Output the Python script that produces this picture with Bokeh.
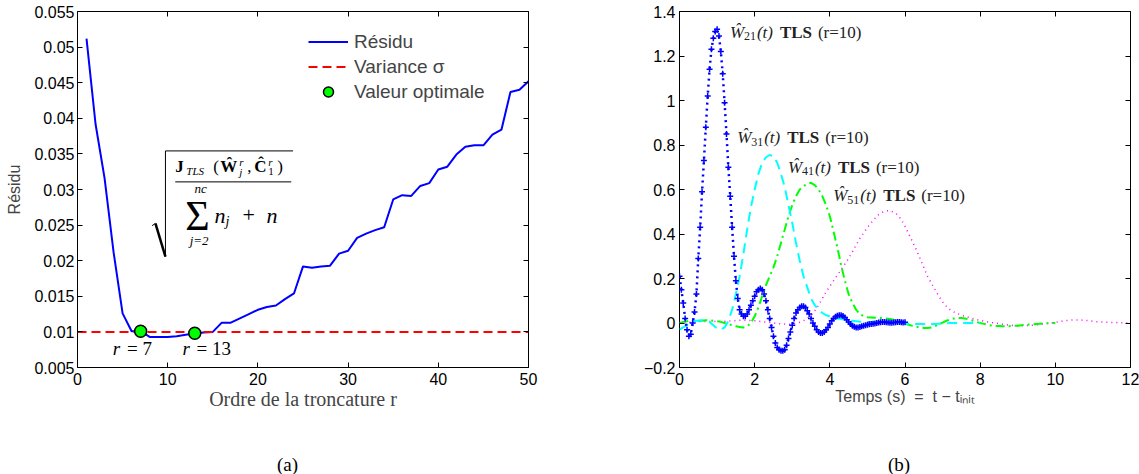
from bokeh.plotting import figure
from bokeh.models import (Range1d, FixedTicker, LinearAxis, Label, Legend,
                          LegendItem, CustomJSTickFormatter, Div)
from bokeh.core.properties import value
from bokeh.layouts import row, column
from bokeh.embed import file_html
from bokeh.resources import INLINE

SANS = "Liberation Sans"
SERIF = "Liberation Serif"

# ---------------- data : panel (a) ----------------
r_order = list(range(1, 51))
residu = [0.0512, 0.0392, 0.0316, 0.0212, 0.0126, 0.0101, 0.0101, 0.0093, 0.0093, 0.0093,
          0.0094, 0.0096, 0.0098, 0.0099, 0.0100, 0.0113, 0.0113, 0.0119, 0.0125, 0.0131,
          0.0135, 0.0137, 0.0146, 0.0154, 0.0192, 0.0190, 0.0192, 0.0193, 0.0210, 0.0214,
          0.0232, 0.0238, 0.0243, 0.0247, 0.0286, 0.0292, 0.0291, 0.0305, 0.0309, 0.0328,
          0.0332, 0.0349, 0.0360, 0.0362, 0.0362, 0.0377, 0.0384, 0.0437, 0.0440, 0.0452]
variance_r = [0, 50]
variance_sigma = [0.01, 0.01]
r_optimal = [7, 13]
residu_optimal = [0.0101, 0.0098]
xticks_a = [0, 10, 20, 30, 40, 50]
xlabels_a = ["0", "10", "20", "30", "40", "50"]
yticks_a = [0.005, 0.01, 0.015, 0.02, 0.025, 0.03, 0.035, 0.04, 0.045, 0.05, 0.055]
ylabels_a = ["0.005", "0.01", "0.015", "0.02", "0.025", "0.03", "0.035", "0.04",
             "0.045", "0.05", "0.055"]

# ---------------- data : panel (b) ----------------
t_w21 = [round(0.05 * i, 2) for i in range(121)]
w21 = [0.21, 0.15, 0.09, 0.02, -0.03, -0.06, -0.05, 0.00, 0.05, 0.13,
       0.29, 0.43, 0.59, 0.73, 0.88, 1.02, 1.14, 1.23, 1.28, 1.31,
       1.32, 1.29, 1.22, 1.12, 0.99, 0.85, 0.70, 0.57, 0.43, 0.30,
       0.19, 0.11, 0.06, 0.04, 0.03, 0.03, 0.04, 0.06, 0.08, 0.10,
       0.12, 0.14, 0.15, 0.155, 0.15, 0.13, 0.10, 0.06, 0.02, -0.02,
       -0.06, -0.09, -0.11, -0.12, -0.125, -0.125, -0.12, -0.10, -0.07, -0.04,
       -0.01, 0.02, 0.045, 0.06, 0.07, 0.075, 0.075, 0.07, 0.055, 0.04,
       0.02, 0.00, -0.015, -0.03, -0.04, -0.045, -0.045, -0.04, -0.03, -0.02,
       -0.005, 0.01, 0.02, 0.028, 0.033, 0.035, 0.035, 0.032, 0.025, 0.015,
       0.005, -0.005, -0.012, -0.017, -0.02, -0.02, -0.018, -0.015, -0.012, -0.01,
       -0.008, -0.006, -0.005, -0.003, -0.002, 0.0, 0.002, 0.003, 0.004, 0.004,
       0.003, 0.002, 0.001, 0.001, 0.002, 0.003, 0.004, 0.004, 0.003, 0.002, 0.003]

t_w31 = [round(0.1 * i, 1) for i in range(81)]
w31 = [-0.03, -0.02, -0.01, 0.0, 0.01, 0.01, 0.012, 0.01, 0.005, -0.01,
       -0.025, -0.03, -0.02, 0.01, 0.06, 0.13, 0.21, 0.31, 0.42, 0.52,
       0.60, 0.67, 0.72, 0.745, 0.755, 0.75, 0.72, 0.67, 0.61, 0.53,
       0.45, 0.36, 0.28, 0.21, 0.16, 0.11, 0.08, 0.06, 0.045, 0.035,
       0.03, 0.025, 0.02, 0.018, 0.015, 0.012, 0.01, 0.008, 0.006, 0.005,
       0.004, 0.003, 0.003, 0.003, 0.002, 0.002, 0.001, 0.0, 0.0, -0.001,
       -0.002, -0.003, -0.004, -0.005, -0.005, -0.005, -0.005, -0.005, -0.004, -0.003,
       -0.002, -0.001, 0.0, 0.0, 0.0, 0.0, 0.0, 0.0, 0.0, 0.0, 0.0]

t_w41 = [round(0.1 * i, 1) for i in range(101)]
w41 = [0.0, 0.005, 0.008, 0.01, 0.01, 0.01, 0.01, 0.012, 0.012, 0.01,
       0.008, 0.005, 0.0, -0.005, -0.01, -0.015, -0.018, -0.02, -0.015, 0.0,
       0.03, 0.07, 0.12, 0.17, 0.21, 0.25, 0.30, 0.36, 0.42, 0.48,
       0.53, 0.57, 0.60, 0.615, 0.625, 0.63, 0.62, 0.60, 0.57, 0.53,
       0.48, 0.41, 0.34, 0.26, 0.19, 0.13, 0.09, 0.06, 0.04, 0.03,
       0.026, 0.025, 0.024, 0.023, 0.022, 0.02, 0.018, 0.015, 0.011, 0.005,
       -0.002, -0.008, -0.013, -0.017, -0.02, -0.022, -0.022, -0.02, -0.014, -0.006,
       0.002, 0.01, 0.016, 0.02, 0.022, 0.022, 0.02, 0.016, 0.011, 0.005,
       0.0, -0.004, -0.008, -0.011, -0.013, -0.014, -0.015, -0.015, -0.014, -0.013,
       -0.012, -0.01, -0.009, -0.007, -0.006, -0.004, -0.003, -0.002, -0.001, 0.0, 0.0]

t_w51 = [round(0.1 * i, 1) for i in range(121)]
w51 = [0.0, 0.0, 0.002, 0.004, 0.005, 0.006, 0.007, 0.007, 0.007, 0.007,
       0.007, 0.008, 0.008, 0.009, 0.01, 0.011, 0.012, 0.012, 0.012, 0.011,
       0.01, 0.008, 0.006, 0.004, 0.002, 0.0, -0.002, -0.004, -0.005, -0.006,
       -0.005, -0.002, 0.003, 0.01, 0.02, 0.035, 0.055, 0.08, 0.11, 0.14,
       0.165, 0.19, 0.215, 0.24, 0.265, 0.29, 0.32, 0.35, 0.38, 0.405,
       0.43, 0.45, 0.47, 0.487, 0.498, 0.504, 0.504, 0.498, 0.487, 0.465,
       0.435, 0.40, 0.365, 0.33, 0.29, 0.25, 0.21, 0.18, 0.15, 0.12,
       0.095, 0.075, 0.06, 0.05, 0.042, 0.035, 0.03, 0.025, 0.02, 0.015,
       0.012, 0.008, 0.005, 0.002, 0.0, -0.003, -0.006, -0.008, -0.01, -0.011,
       -0.012, -0.012, -0.012, -0.011, -0.01, -0.008, -0.006, -0.004, -0.002, 0.0,
       0.003, 0.006, 0.009, 0.011, 0.013, 0.014, 0.014, 0.013, 0.012, 0.01,
       0.008, 0.006, 0.005, 0.004, 0.003, 0.002, 0.002, 0.001, 0.001, 0.0, 0.0]

xticks_b = [0, 2, 4, 6, 8, 10, 12]
xlabels_b = ["0", "2", "4", "6", "8", "10", "12"]
yticks_b = [-0.2, 0, 0.2, 0.4, 0.6, 0.8, 1, 1.2, 1.4]
ylabels_b = ["\u22120.2", "0", "0.2", "0.4", "0.6", "0.8", "1", "1.2", "1.4"]
curve_labels = [("\u0174", "21"), ("\u0174", "31"), ("\u0174", "41"), ("\u0174", "51")]


def style_main_axis(ax, ticks, labels, standoff):
    ax.ticker = FixedTicker(ticks=ticks)
    ax.major_label_overrides = dict(zip(ticks, labels))
    ax.major_tick_in = 5
    ax.major_tick_out = 0
    ax.minor_tick_line_color = None
    ax.axis_line_color = None
    ax.major_tick_line_color = "black"
    ax.major_label_text_font = SANS
    ax.major_label_text_font_size = "16px"
    ax.major_label_text_color = "black"
    ax.major_label_standoff = standoff


def add_box_axes(p, xticks, yticks):
    blank = CustomJSTickFormatter(code="return ''")
    top = LinearAxis(ticker=FixedTicker(ticks=xticks), formatter=blank,
                     major_label_orientation="vertical", major_label_standoff=0,
                     major_tick_in=5, major_tick_out=0, axis_line_color=None,
                     minor_tick_line_color=None)
    right = LinearAxis(ticker=FixedTicker(ticks=yticks), formatter=blank,
                       major_label_standoff=0, major_tick_in=5, major_tick_out=0,
                       axis_line_color=None, minor_tick_line_color=None)
    p.add_layout(top, "above")
    p.add_layout(right, "right")


def put(p, x, y, text, dx=0, dy=0, size="16px", style="normal", font=SERIF,
        align="left", baseline="middle", color="black"):
    p.add_layout(Label(x=x, y=y, text=text, x_offset=dx, y_offset=dy,
                       text_font=font, text_font_size=size, text_font_style=style,
                       text_align=align, text_baseline=baseline, text_color=color))


def base_figure(width, xr, yr, left, right):
    p = figure(width=width, height=420, x_range=xr, y_range=yr,
               output_backend="svg", toolbar_location=None,
               min_border_left=left, min_border_right=right,
               min_border_top=11, min_border_bottom=53)
    p.xgrid.visible = False
    p.ygrid.visible = False
    p.outline_line_color = "black"
    p.outline_line_alpha = 1
    p.outline_line_width = 1
    p.background_fill_color = "white"
    p.border_fill_color = "white"
    return p


# ====================== panel (a) ======================
pa = base_figure(580, Range1d(0, 50), Range1d(0.005, 0.055), 77, 52)
style_main_axis(pa.xaxis[0], xticks_a, xlabels_a, 5)
style_main_axis(pa.yaxis[0], yticks_a, ylabels_a, 3)
pa.yaxis[0].axis_label = "Résidu"
pa.yaxis[0].axis_label_text_font = SANS
pa.yaxis[0].axis_label_text_font_size = "16px"
pa.yaxis[0].axis_label_text_font_style = "normal"
pa.yaxis[0].axis_label_standoff = 8
pa.xaxis[0].axis_label = "Ordre de la troncature r"
pa.xaxis[0].axis_label_text_font = SERIF
pa.xaxis[0].axis_label_text_font_size = "20px"
pa.xaxis[0].axis_label_text_font_style = "normal"
pa.xaxis[0].axis_label_standoff = 0
add_box_axes(pa, xticks_a, yticks_a)

res_line = pa.line(r_order, residu, line_color="#0000FF", line_width=2)
var_line = pa.line(variance_r, variance_sigma, line_color="#FF0000", line_width=2,
                   line_dash="9 5")
opt_pts = pa.scatter(r_optimal, residu_optimal, size=12, fill_color="#00FF00",
                     line_color="black", line_width=1.5)

legend = Legend(items=[LegendItem(label=value("Résidu"), renderers=[res_line]),
                       LegendItem(label=value("Variance \u03c3"), renderers=[var_line]),
                       LegendItem(label=value("Valeur optimale"), renderers=[opt_pts])],
                location=(231, 263), padding=0, margin=0, spacing=0,
                glyph_width=40, glyph_height=25, label_height=25, label_standoff=6,
                border_line_color=None, background_fill_alpha=0,
                label_text_font=SANS, label_text_font_size="19px")
pa.add_layout(legend)

# r = 7 / r = 13 annotations
put(pa, 3.92, 0.00762, "r", size="19px", style="italic")
put(pa, 5.5, 0.00762, "= 7", size="19px")
put(pa, 11.63, 0.00762, "r", size="19px", style="italic")
put(pa, 13.2, 0.00762, "= 13", size="19px")

# formula: sqrt( J_TLS(W_j^r, C_1^r) / (sum_{j=2}^{nc} n_j + n) )
pa.line([8.27, 8.64], [0.02492, 0.02524], line_color="black", line_width=1)
pa.line([8.64, 9.75], [0.02524, 0.02056], line_color="black", line_width=2.5)
pa.line([9.75, 9.75, 23.9], [0.02056, 0.03542, 0.03542], line_color="black", line_width=1)
pa.line([10.84, 23.7], [0.03107, 0.03107], line_color="black", line_width=1)
nx, ny = 10.84, 0.0332
put(pa, nx, ny, "J", size="17px", style="bold")
put(pa, nx, ny, "TLS", dx=11, dy=-4, size="11px", style="italic")
put(pa, nx, ny, "(", dx=38, size="17px")
put(pa, nx, ny, "\u0174", dx=45, size="17px", style="bold")
put(pa, nx, ny, "r", dx=64, dy=5, size="11px", style="italic")
put(pa, nx, ny, "j", dx=64, dy=-5, size="11px", style="italic")
put(pa, nx, ny, ",", dx=72, size="17px")
put(pa, nx, ny, "\u0108", dx=79, size="17px", style="bold")
put(pa, nx, ny, "r", dx=93, dy=5, size="11px", style="italic")
put(pa, nx, ny, "1", dx=93, dy=-5, size="11px")
put(pa, nx, ny, ")", dx=102, size="17px")
put(pa, 13.65, 0.0301, "nc", size="13px", style="italic", align="center")
put(pa, 13.3, 0.0263, "\u03a3", size="42px", align="center")
put(pa, 15.19, 0.0264, "n", size="22px", style="italic")
put(pa, 15.19, 0.0264, "j", dx=11, dy=-6, size="14px", style="italic")
put(pa, 15.19, 0.0264, "+", dx=28, size="22px")
put(pa, 15.19, 0.0264, "n", dx=52, size="22px", style="italic")
put(pa, 13.49, 0.0228, "j=2", size="13px", style="italic", align="center")

# ====================== panel (b) ======================
pb = base_figure(559, Range1d(0, 12), Range1d(-0.2, 1.4), 99, 9)
style_main_axis(pb.xaxis[0], xticks_b, xlabels_b, 5)
style_main_axis(pb.yaxis[0], yticks_b, ylabels_b, 4)
pb.xaxis[0].axis_label = "Temps (s)\u00a0 =\u00a0 t \u2212 t\u1d62\u2099\u1d62\u209c"
pb.xaxis[0].axis_label_text_font = SANS
pb.xaxis[0].axis_label_text_font_size = "16px"
pb.xaxis[0].axis_label_text_font_style = "normal"
pb.xaxis[0].axis_label_standoff = 0
add_box_axes(pb, xticks_b, yticks_b)

pb.line(t_w51, w51, line_color="#FF00FF", line_width=1.5, line_dash="1 4")
pb.line(t_w41, w41, line_color="#00FF00", line_width=2, line_dash="9 4 2 4")
pb.line(t_w31, w31, line_color="#00FFFF", line_width=2, line_dash="10 6")
pb.line(t_w21, w21, line_color="#0000FF", line_width=2.5, line_dash="2 4")
pb.scatter(t_w21, w21, marker="cross", size=6, line_color="#0000FF", line_width=1.5)

label_anchors = [(1.341, 1.306), (1.535, 0.832), (2.885, 0.701), (4.09, 0.573)]
for (hat, sub), (lx, ly) in zip(curve_labels, label_anchors):
    put(pb, lx, ly, hat, size="17px", style="italic", color="#222222")
    put(pb, lx, ly, sub, dx=14, dy=-4, size="12px", color="#222222")
    put(pb, lx, ly, "(t)", dx=27, size="17px", style="italic", color="#222222")
    put(pb, lx, ly, "TLS", dx=50, size="17px", style="bold", color="#222222")
    put(pb, lx, ly, "(r=10)", dx=88, size="17px", color="#222222")


def caption(text, width, left):
    html = ("<div style=\"font-family:'Liberation Serif'; font-size:19px; "
            "line-height:20px; color:black; padding-left:%dpx; padding-top:30px;\">%s</div>"
            % (left, text))
    return Div(text=html, width=width, height=50)


cap_a = caption("(a)", 580, 272)
cap_b = caption("(b)", 559, 293)

layout = column(row(pa, pb), row(cap_a, cap_b))
open("out.html", "w").write(file_html(layout, INLINE))
